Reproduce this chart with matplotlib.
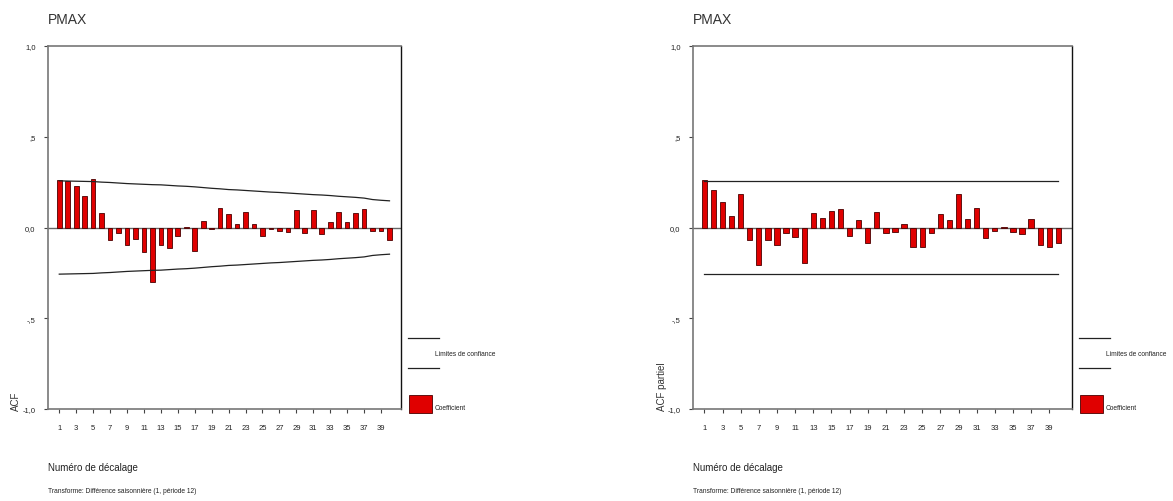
import matplotlib
matplotlib.use("Agg")
import matplotlib.pyplot as plt
from matplotlib.patches import Rectangle
from matplotlib.lines import Line2D
from matplotlib.ticker import FuncFormatter

plt.rcParams['font.family'] = ['Liberation Sans', 'DejaVu Sans']

lags = list(range(1, 41))
acf = [0.261, 0.255, 0.230, 0.176, 0.268, 0.081, -0.070, -0.029, -0.099, -0.062,
       -0.136, -0.301, -0.099, -0.114, -0.048, 0.002, -0.132, 0.037, -0.007, 0.108,
       0.073, 0.018, 0.086, 0.018, -0.048, -0.007, -0.020, -0.026, 0.097, -0.029,
       0.097, -0.035, 0.031, 0.086, 0.031, 0.081, 0.103, -0.018, -0.018, -0.070]
acf_limit = [0.257, 0.256, 0.255, 0.254, 0.253, 0.250, 0.248, 0.245, 0.242, 0.240,
             0.238, 0.236, 0.235, 0.232, 0.229, 0.227, 0.224, 0.220, 0.216, 0.213,
             0.209, 0.207, 0.204, 0.201, 0.198, 0.195, 0.193, 0.190, 0.187, 0.184,
             0.181, 0.179, 0.176, 0.172, 0.169, 0.166, 0.162, 0.154, 0.150, 0.147]
pacf = [0.261, 0.206, 0.138, 0.062, 0.182, -0.070, -0.204, -0.070, -0.094, -0.029,
        -0.053, -0.195, 0.081, 0.051, 0.092, 0.103, -0.048, 0.042, -0.083, 0.086,
        -0.029, -0.026, 0.018, -0.110, -0.110, -0.029, 0.075, 0.042, 0.184, 0.048,
        0.110, -0.059, -0.018, 0.002, -0.024, -0.035, 0.048, -0.097, -0.108, -0.086]
pacf_limit = [0.256] * 40

xtick_labels = [str(k) for k in range(1, 40, 2)]
ytick_values = [-1.0, -0.5, 0.0, 0.5, 1.0]
ytick_labels = ["-1,0", "-,5", "0,0", ",5", "1,0"]

title = "PMAX"
xlabel = "Numéro de décalage"
footer = "Transforme: Différence saisonnière (1, période 12)"
legend_limits = "Limites de confiance"
legend_coef = "Coefficient"

W, H = 1173, 502
fig = plt.figure(figsize=(W / 100, H / 100), dpi=100)

BAR_FC = "#e00000"
BAR_EC = "#4a0000"
SPINE = "#555555"


def px(x, y):
    return x / W, 1 - y / H


panels = [
    dict(vals=acf, lim=acf_limit, ylabel="ACF", box=(48, 47, 401, 410),
         xlim=(-0.33, 41.36), width=0.55, ylab_x=16),
    dict(vals=pacf, lim=pacf_limit, ylabel="ACF partiel", box=(693, 47, 1071.7, 410),
         xlim=(-0.25, 41.47), width=0.58, ylab_x=662),
]

for p in panels:
    x0, y0, x1, y1 = p["box"]
    ax = fig.add_axes([x0 / W, 1 - y1 / H, (x1 - x0) / W, (y1 - y0) / H])
    ax.bar(lags, p["vals"], width=p["width"], color=BAR_FC, edgecolor=BAR_EC,
           linewidth=0.6, zorder=3)
    ax.axhline(0, color="#666666", lw=1.0, zorder=2)
    ax.plot(lags, p["lim"], color="#222222", lw=0.9, zorder=4)
    ax.plot(lags, [-v for v in p["lim"]], color="#222222", lw=0.9, zorder=4)
    ax.set_xlim(*p["xlim"])
    ax.set_ylim(-1, 1)
    ax.set_yticks(ytick_values)
    ax.set_yticklabels(ytick_labels)
    ax.set_xticks(list(range(1, 40, 2)))
    ax.set_xticklabels(xtick_labels)
    ax.tick_params(axis="both", labelsize=5.5, length=3, width=0.8, color="#444444",
                   labelcolor="#222222", pad=4)
    ax.tick_params(axis="y", pad=6)
    ax.tick_params(axis="x", pad=8)
    for side in ["left", "bottom", "top"]:
        ax.spines[side].set_color("#777777")
        ax.spines[side].set_linewidth(1.2)
    ax.spines["right"].set_color("#111111")
    ax.spines["right"].set_linewidth(1.0)

    # title, labels
    fig.text(*px(x0, 20), title, fontsize=10, color="#333333", ha="left", va="center")
    fig.text(*px(p["ylab_x"], 411), p["ylabel"], fontsize=7, rotation=90,
             ha="center", va="bottom", color="#333333")
    fig.text(*px(x0, 468), xlabel, fontsize=7, ha="left", va="center", color="#222222")
    fig.text(*px(x0, 492), footer, fontsize=4.8, ha="left", va="center",
             color="#222222", fontstretch="condensed")

    # legend
    lx = x1 + 7
    for yy in (339, 369):
        fig.add_artist(Line2D([px(lx, 0)[0], px(lx + 31, 0)[0]],
                              [px(0, yy)[1], px(0, yy)[1]], color="#222222", lw=0.9))
    fig.text(*px(lx + 27, 355), legend_limits, fontsize=4.8, ha="left", va="center",
             color="#222222")
    rx, ry = px(lx + 1, 414)
    fig.add_artist(Rectangle((rx, ry), 23 / W, 18 / H, facecolor=BAR_FC,
                             edgecolor=BAR_EC, lw=0.6, transform=fig.transFigure))
    fig.text(*px(lx + 27, 409), legend_coef, fontsize=4.8, ha="left", va="center",
             color="#222222")

fig.savefig("out.png", dpi=100)
